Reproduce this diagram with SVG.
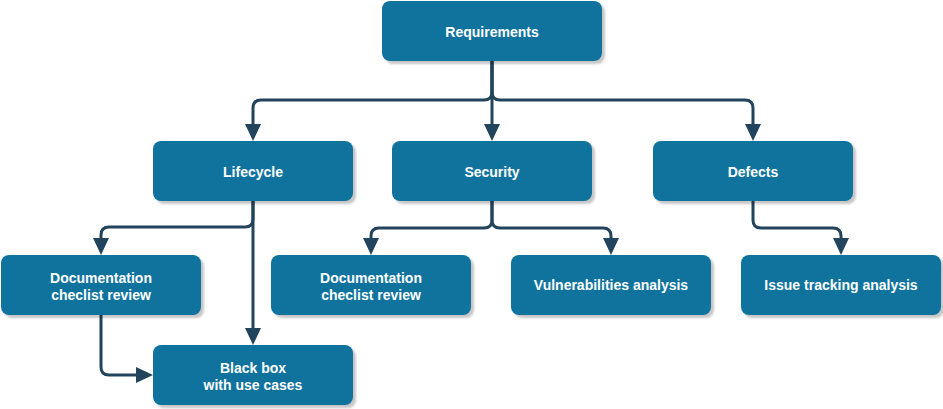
<svg xmlns="http://www.w3.org/2000/svg" width="943" height="409" viewBox="0 0 943 409">
<defs>
<style>
.box{fill:#10739E;}
.shadow{fill:#000;opacity:0.22;}
.lbl{font-family:"Liberation Sans",Arial,Helvetica,sans-serif;font-weight:bold;font-size:14px;fill:#FFFFFF;text-anchor:middle;}
.edge{fill:none;stroke:#23445D;stroke-width:3;}
</style>
<filter id="blur" x="-10%" y="-10%" width="120%" height="130%"><feGaussianBlur stdDeviation="0.8"/></filter>
<marker id="arr" markerUnits="userSpaceOnUse" markerWidth="18" markerHeight="18" refX="0" refY="8" orient="auto">
<path d="M0,0 L17,8 L0,16 Z" fill="#23445D"/>
</marker>
</defs>
<rect width="943" height="409" fill="#FFFFFF"/>
<g id="connectors">
<path class="edge" marker-end="url(#arr)" d="M492,61 V92 Q492,100 484,100 H261 Q253,100 253,108 V124"/>
<path class="edge" marker-end="url(#arr)" d="M492,61 V124"/>
<path class="edge" marker-end="url(#arr)" d="M492,61 V92 Q492,100 500,100 H745 Q753,100 753,108 V124"/>
<path class="edge" marker-end="url(#arr)" d="M253,201 V219 Q253,227 245,227 H109 Q101,227 101,235 V238"/>
<path class="edge" marker-end="url(#arr)" d="M253,201 V328"/>
<path class="edge" marker-end="url(#arr)" d="M101,315 V367 Q101,375 109,375 H136"/>
<path class="edge" marker-end="url(#arr)" d="M492,201 V220 Q492,228 484,228 H379 Q371,228 371,236 V238"/>
<path class="edge" marker-end="url(#arr)" d="M492,201 V220 Q492,228 500,228 H603 Q611,228 611,236 V238"/>
<path class="edge" marker-end="url(#arr)" d="M753,201 V220 Q753,228 761,228 H833 Q841,228 841,236 V238"/>
</g>
<g id="requirements">
<rect class="shadow" filter="url(#blur)" x="385" y="4" width="220" height="60" rx="8"/>
<rect class="box" x="382" y="1" width="220" height="60" rx="8"/>
<text class="lbl" x="492" y="37">Requirements</text>
</g>
<g id="lifecycle">
<rect class="shadow" filter="url(#blur)" x="156" y="144" width="200" height="60" rx="8"/>
<rect class="box" x="153" y="141" width="200" height="60" rx="8"/>
<text class="lbl" x="253" y="177">Lifecycle</text>
</g>
<g id="security">
<rect class="shadow" filter="url(#blur)" x="395" y="144" width="200" height="60" rx="8"/>
<rect class="box" x="392" y="141" width="200" height="60" rx="8"/>
<text class="lbl" x="492" y="177">Security</text>
</g>
<g id="defects">
<rect class="shadow" filter="url(#blur)" x="656" y="144" width="200" height="60" rx="8"/>
<rect class="box" x="653" y="141" width="200" height="60" rx="8"/>
<text class="lbl" x="753" y="177">Defects</text>
</g>
<g id="doc-review-1">
<rect class="shadow" filter="url(#blur)" x="4" y="258" width="200" height="60" rx="8"/>
<rect class="box" x="1" y="255" width="200" height="60" rx="8"/>
<text class="lbl" x="101" y="283">Documentation</text>
<text class="lbl" x="101" y="300">checlist review</text>
</g>
<g id="doc-review-2">
<rect class="shadow" filter="url(#blur)" x="274" y="258" width="200" height="60" rx="8"/>
<rect class="box" x="271" y="255" width="200" height="60" rx="8"/>
<text class="lbl" x="371" y="283">Documentation</text>
<text class="lbl" x="371" y="300">checlist review</text>
</g>
<g id="vulnerabilities">
<rect class="shadow" filter="url(#blur)" x="514" y="258" width="200" height="60" rx="8"/>
<rect class="box" x="511" y="255" width="200" height="60" rx="8"/>
<text class="lbl" x="611" y="290">Vulnerabilities analysis</text>
</g>
<g id="issue-tracking">
<rect class="shadow" filter="url(#blur)" x="744" y="258" width="200" height="60" rx="8"/>
<rect class="box" x="741" y="255" width="200" height="60" rx="8"/>
<text class="lbl" x="841" y="290">Issue tracking analysis</text>
</g>
<g id="black-box">
<rect class="shadow" filter="url(#blur)" x="156" y="348" width="200" height="60" rx="8"/>
<rect class="box" x="153" y="345" width="200" height="60" rx="8"/>
<text class="lbl" x="253" y="373">Black box</text>
<text class="lbl" x="253" y="390">with use cases</text>
</g>
</svg>
